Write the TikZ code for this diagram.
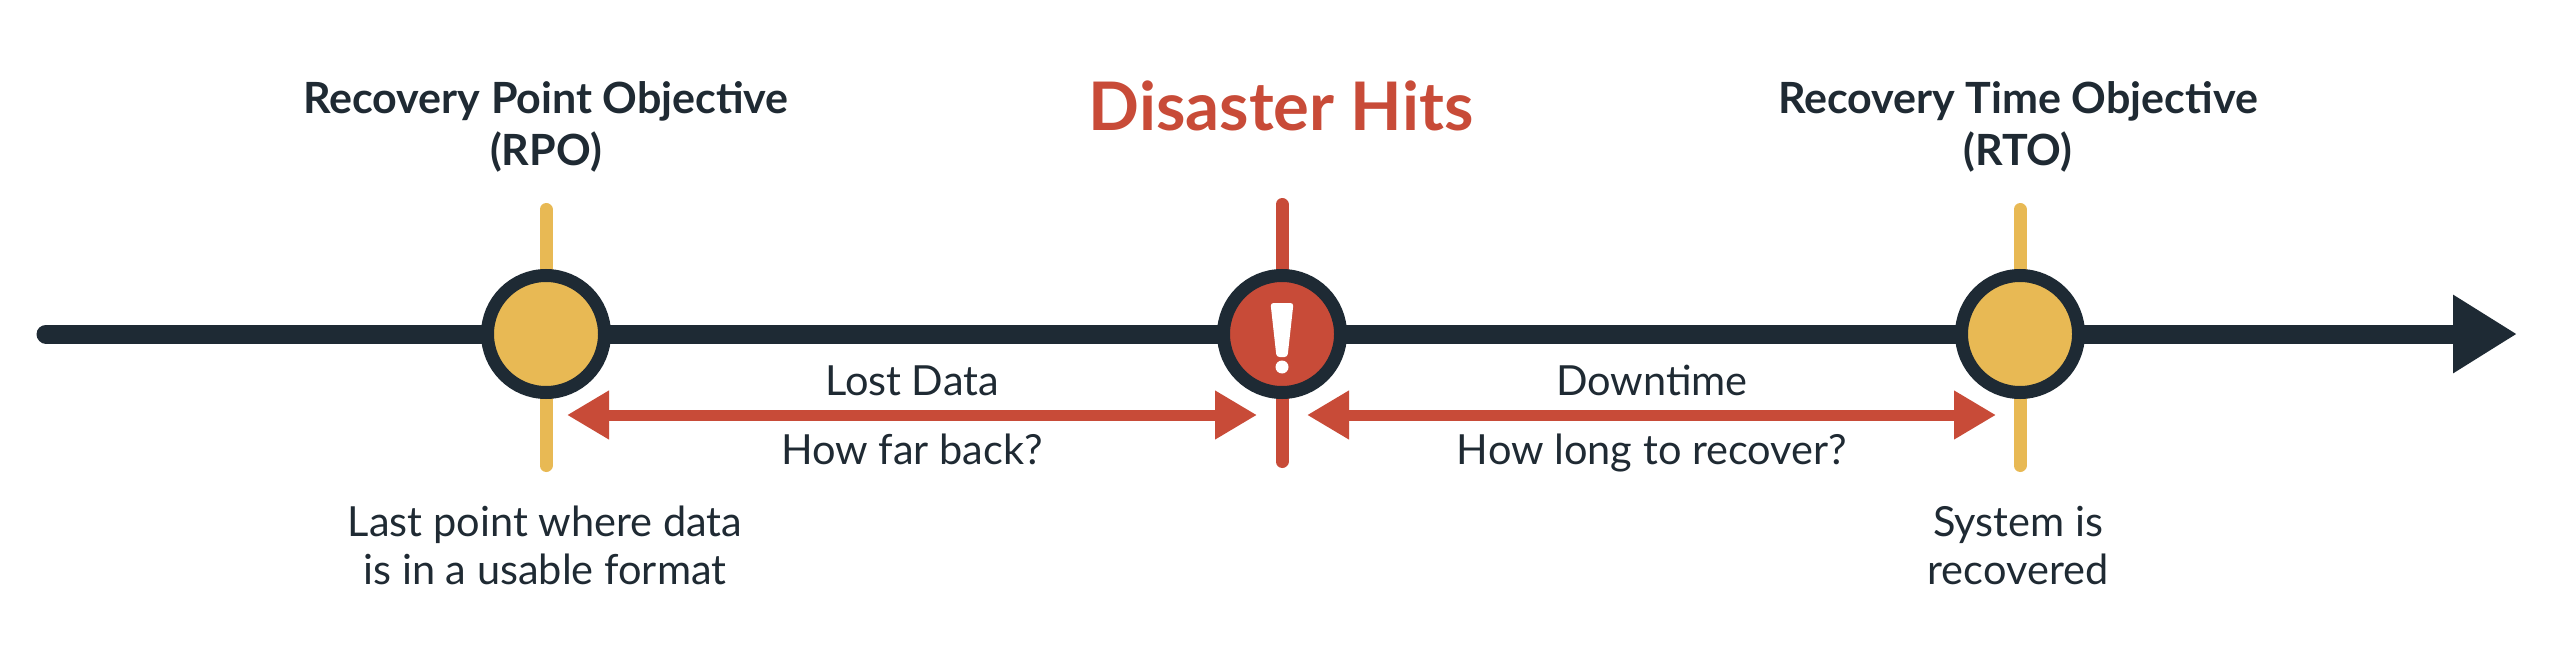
\documentclass[tikz,border=0pt]{standalone}
\usepackage{fontspec}
\setmainfont{Lato}
\usetikzlibrary{arrows.meta,calc}
\definecolor{navy}{HTML}{1E2A34}
\definecolor{gold}{HTML}{E8B954}
\definecolor{brick}{HTML}{C84B38}
\definecolor{txt}{HTML}{1F2A33}
\tikzset{
  timeline/.style={draw=navy, line width=19bp, line cap=round, -{Triangle[length=64bp,width=74bp]}},
  goldtick/.style={draw=gold, line width=13bp, line cap=round},
  redtick/.style={draw=brick, line width=13bp, line cap=round},
  milestone/.style={circle, draw=navy, line width=13bp, minimum size=117bp, inner sep=0pt},
  span/.style={draw=brick, line width=11bp, {Triangle[length=42bp,width=46bp]}-{Triangle[length=42bp,width=46bp]}},
  title/.style={anchor=base, align=center, text=txt, font=\fontsize{43bp}{52bp}\selectfont\bfseries},
  bigtitle/.style={anchor=base, align=center, text=brick, font=\fontsize{67bp}{80bp}\selectfont\bfseries},
  label/.style={anchor=base, align=center, text=txt, font=\fontsize{41.5bp}{48bp}\selectfont},
}
\begin{document}
\begin{tikzpicture}[x=1bp,y=-1bp]
\useasboundingbox (0,0) rectangle (2560,652);
% coordinates
\coordinate (tstart) at (46,334);
\coordinate (tend) at (2517,334);
\coordinate (rpoTop) at (546,209.5);
\coordinate (rpoBot) at (546,465.5);
\coordinate (disTop) at (1282,204.5);
\coordinate (disBot) at (1282,461.5);
\coordinate (rtoTop) at (2020,209.5);
\coordinate (rtoBot) at (2020,465.5);
% vertical ticks
\draw[goldtick] (rpoTop) -- (rpoBot);
\draw[redtick] (disTop) -- (disBot);
\draw[goldtick] (rtoTop) -- (rtoBot);
% timeline
\draw[timeline] (tstart) -- (tend);
% milestones
\node[milestone, fill=gold] (rpo) at (546,334) {};
\node[milestone, fill=brick] (dis) at (1282,334) {};
\node[milestone, fill=gold] (rto) at (2020,334) {};
% exclamation mark
\fill[white, rounded corners=3bp] ($(dis)+(-11.5,-31)$) -- ($(dis)+(11.5,-31)$) -- ($(dis)+(5.5,23)$) -- ($(dis)+(-5.5,23)$) -- cycle;
\fill[white] ($(dis)+(0,33)$) circle (6.5bp);
% spans
\coordinate (lostL) at (567,415);
\coordinate (lostR) at (1257,415);
\coordinate (downL) at (1307,415);
\coordinate (downR) at (1996,415);
\draw[span] (lostL) -- (lostR);
\draw[span] (downL) -- (downR);
% texts (base anchor = baseline of last line)
\node[title] (rpoT) at (546,166) {Recovery Point Objective\\(RPO)};
\node[bigtitle] (disT) at (1281,131) {Disaster Hits};
\node[title] (rtoT) at (2018,166) {Recovery Time Objective\\(RTO)};
\node[label] (lostT) at (912,395) {Lost Data};
\node[label] (farT) at (912,464) {How far back?};
\node[label] (downT) at (1652,395) {Downtime};
\node[label] (longT) at (1652,464) {How long to recover?};
\node[label] (lastT) at (545,584) {Last point where data\\is in a usable format};
\node[label] (sysT) at (2018,584) {System is\\recovered};
\end{tikzpicture}
\end{document}
